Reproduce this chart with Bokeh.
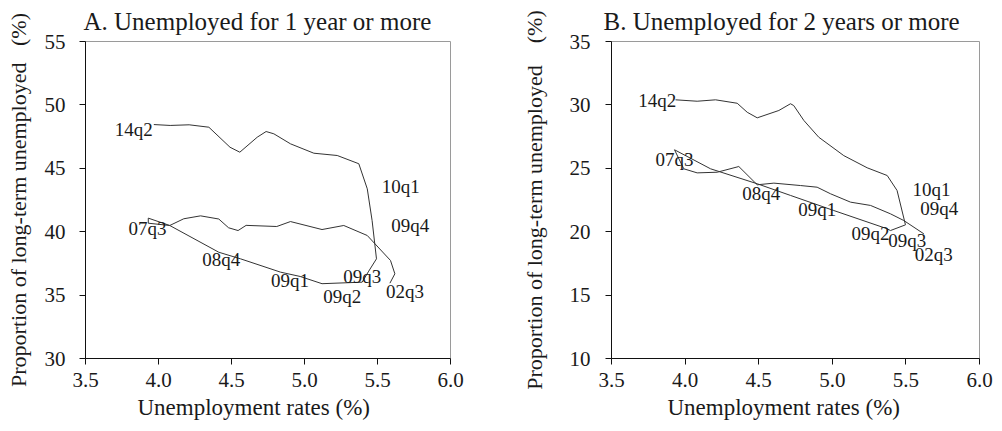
from bokeh.plotting import figure
from bokeh.layouts import row
from bokeh.models import Range1d, FixedTicker, PrintfTickFormatter, Title
from bokeh.core.properties import value
from bokeh.embed import file_html
from bokeh.resources import INLINE

# ---- data: panel A (unemployed 1 year or more), chronological from 02q3 to 14q2
rate_a = [5.585, 5.619, 5.589, 5.43, 5.269, 5.12, 4.904, 4.81, 4.6, 4.545, 4.48, 4.413,
          4.288, 4.173, 4.077, 3.93, 3.93, 4.077, 4.413, 4.562, 4.836, 4.97, 5.12, 5.395,
          5.44, 5.493, 5.463, 5.43, 5.372, 5.224, 5.064, 4.904, 4.79, 4.737, 4.676, 4.557,
          4.49, 4.345, 4.21, 4.08, 3.968]
share_a = [35.94, 36.68, 37.73, 39.7, 40.49, 40.17, 40.8, 40.41, 40.5, 40.09, 40.31, 41.0,
           41.25, 41.02, 40.49, 40.67, 41.07, 40.49, 38.38, 37.86, 36.81, 36.47, 35.9, 36.02,
           36.89, 37.86, 40.88, 43.38, 45.36, 46.01, 46.19, 46.93, 47.72, 47.9, 47.45, 46.27,
           46.66, 48.24, 48.43, 48.38, 48.45]

# ---- data: panel B (unemployed 2 years or more)
rate_b = [5.622, 5.486, 5.395, 5.26, 5.124, 4.988, 4.897, 4.784, 4.603, 4.49, 4.365, 4.218,
          4.082, 3.991, 3.928, 4.173, 4.49, 4.716, 5.01, 5.373, 5.395, 5.497, 5.44, 5.373,
          5.237, 5.078, 4.908, 4.807, 4.738, 4.716, 4.637, 4.49, 4.422, 4.354, 4.207, 4.082,
          3.935]
share_b = [19.83, 20.88, 21.41, 22.07, 22.33, 22.99, 23.51, 23.64, 23.83, 23.7, 25.14, 24.69,
           24.64, 24.96, 26.46, 24.96, 23.78, 22.86, 21.67, 20.23, 20.09, 20.54, 23.25, 24.43,
           25.04, 26.0, 27.45, 28.77, 29.95, 30.09, 29.56, 28.98, 29.42, 30.13, 30.4, 30.29,
           30.4]

# ---- quarter labels
quarters = ["14q2", "07q3", "08q4", "09q1", "09q2", "09q3", "02q3", "09q4", "10q1"]
lab_x_a = [3.831, 3.925, 4.43, 4.90, 5.258, 5.395, 5.688, 5.724, 5.66]
lab_y_a = [48.06, 40.28, 37.79, 36.18, 34.9, 36.48, 35.3, 40.49, 43.56]
lab_x_b = [3.81, 3.928, 4.517, 4.897, 5.26, 5.51, 5.69, 5.727, 5.674]
lab_y_b = [30.35, 25.68, 23.05, 21.75, 19.86, 19.31, 18.2, 21.83, 23.29]

x_ticks = [3.5, 4.0, 4.5, 5.0, 5.5, 6.0]
y_ticks_a = [30, 35, 40, 45, 50, 55]
y_ticks_b = [10, 15, 20, 25, 30, 35]

FONT = "Liberation Serif"
NB = "\u00a0"
INK = "#1a1a1a"


def panel(title, xs, ys, lx, ly, yticks, ylabel, width, bl, br, toff,
          tick_sd, lab_sd, xlab_off):
    p = figure(width=width, height=430,
               x_range=Range1d(x_ticks[0], x_ticks[-1]),
               y_range=Range1d(yticks[0], yticks[-1]),
               output_backend="svg", toolbar_location=None,
               min_border_left=bl, min_border_right=br,
               min_border_top=41, min_border_bottom=72)
    p.background_fill_color = "white"
    p.border_fill_color = "white"
    p.outline_line_color = "#9a9a9a"
    p.outline_line_width = 1
    p.grid.visible = False

    p.title.text = title
    p.title.text_font = FONT
    p.title.text_font_size = "25px"
    p.title.text_font_style = "normal"
    p.title.text_color = INK
    p.title.align = "left"
    p.title.offset = toff
    p.title.vertical_align = "top"
    p.title.standoff = 10

    for ax in (p.xaxis[0], p.yaxis[0]):
        ax.axis_line_color = "#111111"
        ax.axis_line_width = 1
        ax.major_tick_line_color = "#111111"
        ax.major_tick_out = 6
        ax.major_tick_in = 0
        ax.minor_tick_line_color = None
        ax.major_label_text_font = FONT
        ax.major_label_text_font_size = "21px"
        ax.major_label_text_color = INK
        ax.axis_label_text_font = FONT
        ax.axis_label_text_font_style = "normal"
        ax.axis_label_text_font_size = "22px"
        ax.axis_label_text_color = INK

    p.xaxis.ticker = FixedTicker(ticks=x_ticks)
    p.xaxis.formatter = PrintfTickFormatter(format="%.1f")
    p.xaxis.major_label_standoff = 8
    p.yaxis.ticker = FixedTicker(ticks=yticks)
    p.yaxis.formatter = PrintfTickFormatter(format="%d")
    p.yaxis.major_label_standoff = tick_sd
    p.yaxis.axis_label = ylabel
    p.yaxis.axis_label_standoff = lab_sd

    p.add_layout(Title(text="Unemployment rates (%)", align="left", offset=xlab_off,
                       text_font=FONT, text_font_size="23px", text_font_style="normal",
                       text_color=INK, standoff=7), "below")

    p.line(xs, ys, line_color="#333333", line_width=1)
    p.text(x=lx, y=ly, text=quarters, text_font=value(FONT), text_font_size="19px",
           text_align="center", text_baseline="middle", text_color=INK)
    return p


pa = panel("A. Unemployed for 1 year or more", rate_a, share_a, lab_x_a, lab_y_a,
           y_ticks_a, "Proportion of long-term unemployed" + NB * 3 + "(%)",
           500, 85, 50, -2, 14, 11, 52)
pb = panel("B. Unemployed for 2 years or more", rate_b, share_b, lab_x_b, lab_y_b,
           y_ticks_b, "Proportion of long-term unemployed" + NB * 4 + "(%)",
           500, 111, 21, -8, 15, 20, 56)

layout = row(pa, pb)
open("out.html", "w").write(file_html(layout, INLINE))
